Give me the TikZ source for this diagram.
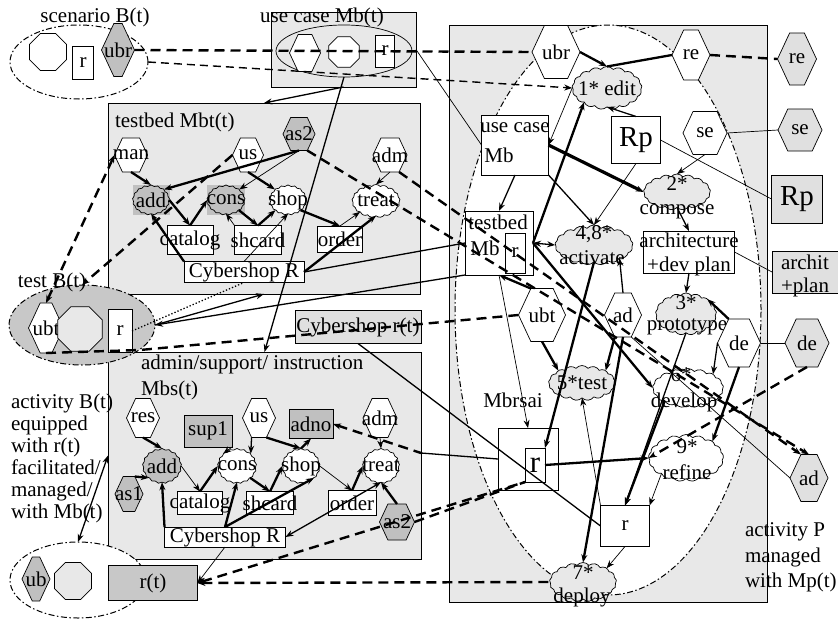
\documentclass[tikz,border=0pt]{standalone}
\usepackage{fontspec}
\setmainfont{Liberation Serif}
\usetikzlibrary{shapes.geometric,shapes.symbols,arrows.meta}
\definecolor{boxg}{HTML}{E8E8E8}
\definecolor{lgr}{HTML}{E0E0E0}
\definecolor{dgr}{HTML}{C0C0C0}
\definecolor{egr}{HTML}{C8C8C8}
\begin{document}
\begin{tikzpicture}[x=1pt,y=-1pt,
 every node/.style={font=\fontsize{21}{22}\selectfont, inner sep=0pt, outer sep=0pt},
 lbl/.style={label={center:#1}},
 hexa/.style={signal, signal to=east and west, signal pointer angle=130, draw, line width=0.7pt, fill=white},
 box/.style={rectangle, draw, line width=0.7pt, fill=white},
 blob/.style={cloud, cloud puffs=17, cloud puff arc=100, cloud ignores aspect, draw, line width=0.7pt, fill=white},
 oct/.style={regular polygon, regular polygon sides=8, draw, line width=0.7pt, fill=white},
 cont/.style={rectangle, draw, line width=0.8pt, fill=boxg},
 ell/.style={ellipse, draw, line width=1pt, dash pattern=on 6pt off 2.5pt on 1.5pt off 2.5pt},
 thn/.style={line width=0.7pt},
 med/.style={line width=1.3pt},
 thk/.style={line width=2.3pt},
 vthk/.style={line width=3.2pt},
 dsh/.style={line width=2.4pt, dash pattern=on 10pt off 6pt},
 dshm/.style={line width=1.4pt, dash pattern=on 8pt off 5pt},
 >={Stealth[length=8pt,width=6pt]}
]
\fill[white] (0,0) rectangle (838,621);
\useasboundingbox (0,0) rectangle (838,621);

% containers
\node[cont, minimum width=145, minimum height=75] (ucbox) at (343.5,49.5) {};
\node[cont, minimum width=312, minimum height=191] (tbbox) at (264,198.5) {};
\node[cont, minimum width=313, minimum height=207] (mbsbox) at (264.5,455.5) {};
\node[cont, minimum width=318, minimum height=577] (pbox) at (608,313.5) {};
\node[ell, fill=white, minimum width=306, minimum height=570] (pell) at (608,310) {};
\node[ell, minimum width=138, minimum height=74] (scell) at (79,62) {};
\node[draw, ellipse, line width=0.7pt, minimum width=136, minimum height=52] (ucell) at (344,51) {};
\node[ell, fill=egr, minimum width=146, minimum height=80] (tell) at (82,325) {};
\node[ell, fill=white, minimum width=136, minimum height=76] (bell) at (78,580) {};
\node[box, fill=lgr, minimum width=126, minimum height=33, lbl={Cybershop r(t)}] (csrt) at (358,327) {};
\node[box, fill=egr, minimum width=89, minimum height=35, lbl={r(t)}] (rt) at (153,583) {};

% labels
\node (lscen) at (95,17) {scenario B(t)};
\node (luc) at (322,17) {use case Mb(t)};
\node[anchor=west] (ltb) at (115,122) {testbed Mbt(t)};
\node (ltest) at (52,282) {test B(t)};
\node[anchor=west] (lmbs1) at (141,364) {admin/support/ instruction};
\node[anchor=west] (lmbs2) at (141,390) {Mbs(t)};
\node[anchor=base west] (ab1) at (11,408) {activity B(t)};
\node[anchor=base west] (ab2) at (11,430) {equipped};
\node[anchor=base west] (ab3) at (11,452) {with r(t)};
\node[anchor=base west] (ab4) at (11,474) {facilitated/};
\node[anchor=base west] (ab5) at (11,496) {managed/};
\node[anchor=base west] (ab6) at (11,518) {with Mb(t)};
\node[anchor=base west] (ap1) at (745,536) {activity P};
\node[anchor=base west] (ap2) at (745,562) {managed};
\node[anchor=base west] (ap3) at (745,587) {with Mp(t)};
\node (lmbrsai) at (513,400) {Mbrsai};

% scenario
\node[oct, minimum size=40] (scoct) at (48,52) {};
\node[box, minimum width=21, minimum height=33, lbl=r] (scr) at (83,63) {};
\node[hexa, fill=dgr, minimum width=33, minimum height=53, lbl=ubr] (scubr) at (118,50) {};
% use case
\node[hexa, minimum width=31, minimum height=37] (uchex) at (305,53) {};
\node[oct, minimum size=33] (ucoct) at (344,52) {};
\node[box, minimum width=19, minimum height=32, lbl=r] (ucr) at (385,51) {};

% testbed
\fill[dgr] (133,185) rectangle (170,215);
\fill[dgr] (207,185) rectangle (245,215);
\node[hexa, minimum width=33, minimum height=34, lbl=man] (tbman) at (131,155) {};
\node[hexa, minimum width=31, minimum height=34, lbl=us] (tbus) at (248,155) {};
\node[hexa, fill=dgr, minimum width=32, minimum height=33, lbl=as2] (tbas2) at (299,134) {};
\node[hexa, minimum width=34, minimum height=34, lbl=adm] (tbadm) at (390,155) {};
\node[blob, fill=dgr, minimum width=37, minimum height=30, lbl=add] (tbadd) at (151,200) {};
\node[blob, fill=dgr, minimum width=38, minimum height=30, lbl=cons] (tbcons) at (226,200) {};
\node[blob, minimum width=37, minimum height=30, lbl=shop] (tbshop) at (288,200) {};
\node[blob, minimum width=48, minimum height=33, lbl=treat] (tbtreat) at (376,201) {};
\node[box, minimum width=46, minimum height=29, lbl=catalog] (tbcat) at (190,240) {};
\node[box, minimum width=47, minimum height=29, lbl=shcard] (tbsh) at (258,240) {};
\node[box, minimum width=45, minimum height=26, lbl=order] (tbord) at (340,239) {};
\node[box, minimum width=120, minimum height=21, lbl={Cybershop R}] (tbcs) at (244,272) {};

% test
\node[hexa, minimum width=35, minimum height=50, lbl=ubt] (tubt) at (46,328) {};
\node[oct, fill=boxg, minimum size=48] (toct) at (80,329) {};
\node[box, minimum width=24, minimum height=43, lbl=r] (tr) at (120,331) {};

% Mbs
\node[hexa, minimum width=33, minimum height=39, lbl=res] (mres) at (143,418) {};
\node[box, fill=dgr, minimum width=48, minimum height=32, lbl=sup1] (msup) at (208,431) {};
\node[hexa, minimum width=33, minimum height=39, lbl=us] (mus) at (259,418) {};
\node[box, fill=dgr, minimum width=44, minimum height=29, lbl=adno] (madno) at (311,424) {};
\node[hexa, minimum width=34, minimum height=39, lbl=adm] (madm) at (380,418) {};
\node[blob, fill=dgr, minimum width=39, minimum height=35, lbl=add] (madd) at (162,466) {};
\node[blob, minimum width=39, minimum height=35, lbl=cons] (mcons) at (237,466) {};
\node[blob, minimum width=38, minimum height=35, lbl=shop] (mshop) at (301,466) {};
\node[blob, minimum width=37, minimum height=35, lbl=treat] (mtreat) at (381,466) {};
\node[hexa, fill=dgr, minimum width=28, minimum height=35, lbl=as1] (mas1) at (129,494) {};
\node[box, minimum width=45, minimum height=23, lbl=catalog] (mcat) at (200,503) {};
\node[box, minimum width=47, minimum height=23, lbl=shcard] (msh) at (270,503) {};
\node[box, minimum width=48, minimum height=25, lbl=order] (mord) at (352,503) {};
\node[hexa, fill=dgr, minimum width=35, minimum height=36, lbl=as2] (mas2) at (397,522) {};
\node[box, minimum width=121, minimum height=20, lbl={Cybershop R}] (mcs) at (225,537) {};

% bottom left
\node[hexa, fill=dgr, minimum width=28, minimum height=44, lbl=ub] (bub) at (36,579) {};
\node[oct, fill=boxg, minimum size=40] (boct) at (73,581) {};

% right region
\node[hexa, minimum width=48, minimum height=53, lbl=ubr] (pubr) at (556,52) {};
\node[hexa, minimum width=38, minimum height=50, lbl=re] (pre) at (691,55) {};
\node[hexa, fill=lgr, minimum width=39, minimum height=52, lbl=re] (ore) at (797,59) {};
\node[blob, fill=boxg, minimum width=70, minimum height=43, lbl={1* edit}] (pedit) at (607,88) {};
\node[box, minimum width=49, minimum height=47, label={[font=\fontsize{29}{29}\selectfont]center:Rp}] (pRp) at (636,140) {};
\node[hexa, minimum width=44, minimum height=43, lbl=se] (pse) at (705,133) {};
\node[hexa, fill=lgr, minimum width=44, minimum height=42, lbl=se] (ose) at (800,130) {};
\node[box, minimum width=67, minimum height=60] (puc) at (515,145) {};
\node (puct1) at (515,128) {use case};
\node (puct2) at (499,155) {Mb};
\node[blob, fill=boxg, minimum width=67, minimum height=36] (pcomp) at (677,192) {};
\node (pcompt1) at (677,184) {2*};
\node (pcompt2) at (677,212) {compose};
\node[box, fill=lgr, minimum width=51, minimum height=48, label={[font=\fontsize{29}{29}\selectfont]center:Rp}] (oRp) at (797,199) {};
\node[box, minimum width=68, minimum height=64] (ptbMb) at (499,243) {};
\node (ptbt1) at (498,222) {testbed};
\node (ptbt2) at (485,248) {Mb};
\node[box, minimum width=20, minimum height=40, lbl=r] (ptbr) at (515,253) {};
\node[blob, fill=boxg, minimum width=78, minimum height=40] (pact) at (594,245) {};
\node (pactt1) at (594,234) {4,8*};
\node (pactt2) at (592,258) {activate};
\node[box, minimum width=91, minimum height=42] (parch) at (689,252) {};
\node (parcht1) at (689,240) {architecture};
\node (parcht2) at (689,266) {+dev plan};
\node[box, fill=lgr, minimum width=66, minimum height=42] (oarch) at (805,272) {};
\node (oarcht1) at (805,262) {archit};
\node (oarcht2) at (805,287) {+plan};
\node[hexa, minimum width=47, minimum height=53, lbl=ubt] (pubt) at (542,315) {};
\node[hexa, minimum width=37, minimum height=44, lbl=ad] (pad) at (623,315) {};
\node[blob, fill=boxg, minimum width=61, minimum height=42] (pproto) at (686,314) {};
\node (pprotot1) at (686,303) {3*};
\node (pprotot2) at (687,327) {prototype};
\node[hexa, minimum width=43, minimum height=48, lbl=de] (pde) at (739,343) {};
\node[hexa, fill=lgr, minimum width=44, minimum height=48, lbl=de] (ode) at (807,343) {};
\node[blob, fill=boxg, minimum width=67, minimum height=35, lbl={5*test}] (ptest) at (582,383) {};
\node[blob, minimum width=71, minimum height=39] (pdev) at (688,388) {};
\node (pdevt1) at (681,375) {6*};
\node (pdevt2) at (684,402) {develop};
\node[box, minimum width=60, minimum height=62] (pmb) at (528,459) {};
\node[box, minimum width=20, minimum height=34, label={[font=\fontsize{31}{31}\selectfont]center:r}] (pmbr) at (535,465) {};
\node[blob, minimum width=75, minimum height=47] (pref) at (686,458) {};
\node (preft1) at (687,447) {9*};
\node (preft2) at (687,472) {refine};
\node[hexa, fill=lgr, minimum width=38, minimum height=47, lbl=ad] (oad) at (809,478) {};
\node[box, minimum width=49, minimum height=41, lbl=r] (pr) at (625,526) {};
\node[blob, fill=boxg, minimum width=67, minimum height=39] (pdep) at (583,582) {};
\node (pdept1) at (583,573) {7*};
\node (pdept2) at (582,597) {deploy};

\coordinate (bend1) at (140,350);
\coordinate (adnoend) at (421,453);

% ---- connectors: top
\draw[dsh] (scubr.east) -- (pubr.west);
\draw[dshm,->] (scell.east) -- (pedit.west);
\draw[thn] (ucbox.east) -- (puc.west);
\draw[med,->] (ucbox.south) -- (tbbox.north);
\draw[med,->] (ucell.south) -- (mbsbox.north);
\draw[dsh] (pre.east) -- (ore.west);
\draw[thk,->] (pubr.east) -- (pedit.north);
\draw[thk] (pre.west) -- (pedit.north);
\draw[med,->] (pRp.north) -- (pedit.south);
\draw[thn,->] (pedit.west) -- (puc.east);
\draw[thk,->] (ptbMb.east) -- (pedit.south west);
\draw[med,->] (puc.south) -- (ptbMb.north);
\draw[vthk,->] (puc.east) -- (pcomp.west);
\draw[med,->] (puc.south east) -- (pact.north);
\draw[thn,->] (pRp.south) -- (pact.north);
\draw[thn] (pRp.east) -- (oRp.west);
\draw[thn,->] (pse.south) -- (pcomp.north);
\draw[thn] (pse.east) -- (ose.west);
\draw[med,->] (pcomp.south) -- (parch.north);
\draw[thn] (parch.east) -- (oarch.west);
\draw[med,->] (parch.south) -- (pproto.north);
\draw[thk,->] (pde.north west) -- (pproto.north east);
\draw[thn] (pde.east) -- (ode.west);
\draw[med,->] (pde.west) -- (pdev.north east);
\draw[thk,->] (pde.south) -- (pref.north east);
\draw[dsh,->] (ode.south) -- (pref.west);
\draw[med,->] (pad.north) -- (pact.south east);
\draw[thk,->] (pad.south west) -- (ptest.north east);
\draw[thk,->] (pad.south) -- (pdep.north);
\draw[thn] (pad.south east) -- (oad.west);
\draw[med,<->] (ptbMb.east) -- (pact.west);
\draw[thk,->] (ptbMb.east) -- (pdev.west);
\draw[thk,->] (pubt.north west) -- (ptbMb.south);
\draw[thk,->] (pubt.south) -- (ptest.north west);
\draw[thn,->] (ptbMb.south) -- (pmb.north);
\draw[thk,->] (pact.south) -- (pmbr.north east);
\draw[thk,->] (pmbr.east) -- (pref.west);
\draw[thn,->] (pr.north west) -- (ptest.south);
\draw[med,->] (pproto.south) -- (pr.north);
\draw[thk,->] (pdev.south west) -- (pr.north);
\draw[thn,->] (pref.south west) -- (pr.north east);
\draw[thn,->] (pr.south) -- (pdep.north east);
\draw[med] (csrt.south) -- (pr.west);

% ---- left-right
\draw[dsh,->] (tbas2.south east) -- (oad.north);
\draw[dsh,->] (tbadm.south east) -- (oad.north west);
\draw[med] (tbcs.east) -- (ptbMb.west);
\draw[med,->] (ptbMb.south west) -- (tell.east);
\draw[dsh] (tubt.south) -- (bend1) -- (pubt.west);
\draw[med,->] (tell.east) -- (tbbox.south);
\draw[med, dotted] (tr.east) -- (tbcs.south);
\draw[dsh,<->] (tbman.west) -- (tubt.north);
\draw[dsh,->] (tbus.west) -- (tell.north);
\draw[med,<->] (bell.north) -- (mbsbox.west);
\draw[thn,->] (mcs.south) -- (rt.east);
\draw[dsh,<-] (rt.east) -- (pdep.west);
\draw[dsh,<-] (rt.east) -- (pmbr.south west);
\draw[dsh] (mas2.east) -- (pmbr.south west);
\draw[dsh,<-] (madno.east) -- (adnoend);
\draw[med] (adnoend) -- (pmb.west);

% ---- testbed internal
\draw[thk,->] (tbman.south) -- (tbadd.north);
\draw[thk,->] (tbas2.south) -- (tbadd.north east);
\draw[thn,->] (tbas2.south) -- (tbcons.north east);
\draw[thk,->] (tbus.south) -- (tbshop.north west);
\draw[thk,->] (tbadd.east) -- (tbcat.north);
\draw[thk,->] (tbcat.north) -- (tbcons.west);
\draw[thk,->] (tbcons.south east) -- (tbsh.north);
\draw[thk,->] (tbsh.north) -- (tbshop.south west);
\draw[thn,->] (tbsh.north west) -- (tbcons.south);
\draw[thk,->] (tbshop.south east) -- (tbord.north);
\draw[thn,->] (tbord.north) -- (tbtreat.south west);
\draw[thn,->] (tbadm.south) -- (tbtreat.north);
\draw[thk,->] (tbcs.east) -- (tbtreat.south);
\draw[thk,->] (tbcs.north west) -- (tbadd.south);
\draw[thn,->] (tbcs.north) -- (tbshop.south);

% ---- Mbs internal
\draw[thk,->] (mres.south) -- (madd.north);
\draw[thk,->] (mas1.north east) -- (madd.south west);
\draw[thk,->] (mcs.north west) -- (madd.south);
\draw[thn,->] (madd.east) -- (mcat.north);
\draw[thk,->] (mcat.north) -- (mcons.west);
\draw[thn,->] (msup.south east) -- (mcons.north west);
\draw[med,->] (mus.south west) -- (mcons.north east);
\draw[thk,->] (mus.south east) -- (mshop.north);
\draw[thk,->] (mshop.north) -- (madno.south);
\draw[thk,->] (mcons.south east) -- (msh.north);
\draw[thk,->] (msh.north) -- (mshop.west);
\draw[thk,->] (mcs.north) -- (mcons.south);
\draw[thk,->] (mcs.north) -- (mshop.south east);
\draw[thn,->] (mshop.east) -- (mord.north);
\draw[thk,->] (mord.north) -- (mtreat.west);
\draw[thn,->] (madm.south) -- (mtreat.north);
\draw[thk,->] (mas2.north) -- (mtreat.south);
\draw[med,<->] (mcs.east) -- (mtreat.south);
\end{tikzpicture}
\end{document}
